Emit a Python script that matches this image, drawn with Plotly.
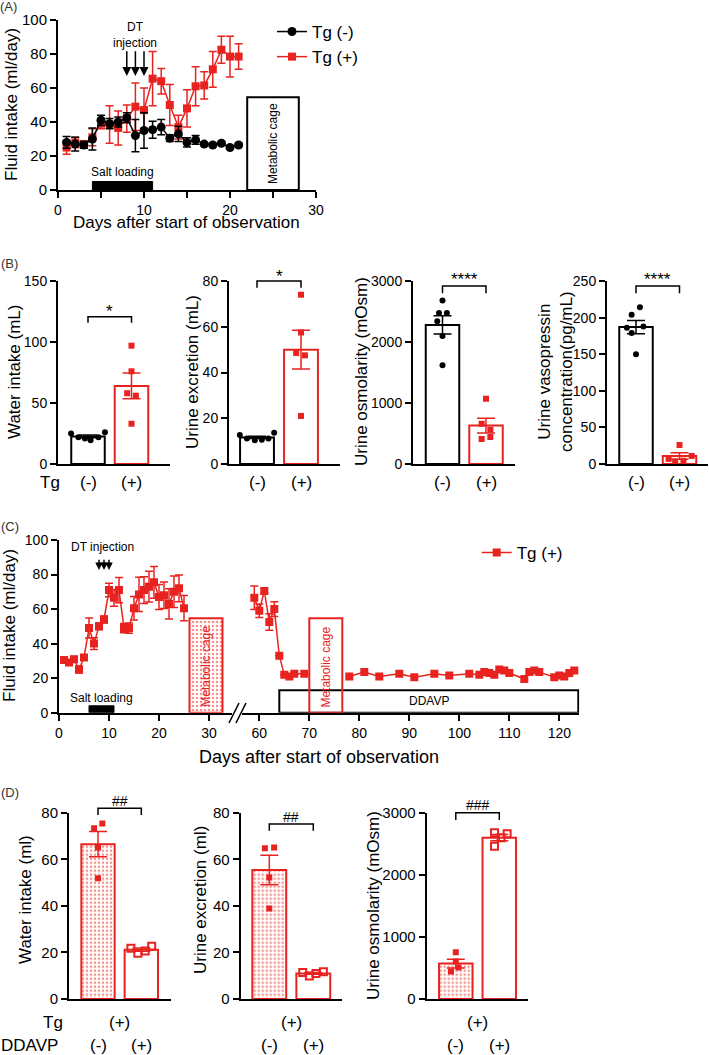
import plotly.graph_objects as go

W, H = 709, 1055
RED = "#E8231F"
FONT = "Liberation Sans, Arial, Helvetica, sans-serif"

# ================= DATA =================
# Panel A : fluid intake (ml/day)
a_days = list(range(1, 22))
a_neg_mean = [28, 27, 26.5, 30, 41, 39, 40, 42.5, 32, 35, 35.5, 37, 30.5, 33, 28, 29.5, 27, 26.5, 27.5, 25, 26.5]
a_neg_sem = [3.4, 4, 2, 6.5, 3, 3, 3, 3, 9.5, 10.5, 5, 4.5, 2, 4.5, 2.7, 2.6, 1, 1, 1, 1, 1]
a_pos_mean = [25, 28, 27, 31, 39, 38.5, 36.5, 42, 49, 47, 65.5, 64, 50, 37, 48, 61, 61.5, 71, 82.5, 78.5, 78.5]
a_pos_sem = [4, 3, 2, 5, 3, 11, 10, 8, 14, 13, 16, 7.5, 12, 7, 11, 11.5, 8, 10.5, 8, 12, 7.5]
a_dt_days = [8, 9, 10]
a_salt = [4, 11]
a_cage = [22, 28]

# Panel B
b_groups = ["(-)", "(+)"]
b1_neg = [25, 22, 21, 19.5, 22, 26]
b1_pos = [97, 76, 58, 56, 33]
b1_mean = [22.6, 64]
b1_sem = [1.1, 10.5]
b2_neg = [12.7, 11.2, 10.4, 10.6, 11.2, 13.7]
b2_pos = [74, 57.5, 48.5, 47.5, 21]
b2_mean = [11.6, 50]
b2_sem = [0.5, 8.5]
b3_neg = [2680, 2475, 2475, 2340, 2100, 1620]
b3_pos = [1070, 660, 562, 443, 410]
b3_mean = [2280, 630]
b3_sem = [150, 120]
b4_neg = [204, 214, 186, 188, 179, 150]
b4_pos = [26, 7, 11, 3.5, 4.5]
b4_mean = [187, 11]
b4_sem = [9, 4.5]

# Panel C
c1_days = list(range(1, 26))
c1_mean = [30.5, 29, 31, 25, 32, 49, 40, 50, 54, 71, 66.5, 71, 49, 49, 60.5, 68.5, 71, 73, 75.5, 67, 68, 63, 70, 72, 60.5]
c1_sem = [1.5, 1.5, 1.5, 2, 1.5, 5.8, 3.4, 2, 2, 3.9, 4.8, 7.3, 2.7, 3, 6.8, 9.9, 7.7, 8.9, 9.2, 7.2, 7.7, 8.7, 9.1, 7.7, 7.3]
c2_days = [59, 60, 61, 62, 63, 64, 65, 66, 67, 69]
c2_mean = [66.5, 59, 70.5, 52.5, 60, 33, 22, 21, 22.5, 22.5]
c2_sem = [6.8, 3.9, 1.5, 4.8, 4.3, 0, 0, 0, 0, 0]
c3_days = [78, 81, 84, 88, 91, 95, 98, 102, 104, 105, 106, 107, 108, 109, 110, 113, 114, 115, 116, 119, 120, 121, 122, 123]
c3_mean = [21, 23.5, 21, 22.5, 20.5, 22.5, 21.5, 22.5, 22, 23.5, 23, 22, 25, 24.5, 23, 19.5, 23.5, 24.5, 23.5, 20.5, 21.5, 21, 23, 24.5]
c_dt_days = [8, 9, 10]
c_salt = [6, 11]
c_cage1 = [26.1, 32.7]
c_cage2 = [70, 76.6]
c_ddavp = [64, 123.8]

# Panel D
d_tg = "(+)"
d1_neg = [73.3, 75.4, 65.1, 51.8]
d1_pos = [21.8, 19.6, 20.6, 22.7]
d1_mean = [66.5, 21.2]
d1_sem = [5.4, 0.7]
d2_neg = [64.7, 65.1, 52.2, 38.9]
d2_pos = [11.4, 9.9, 11, 11.7]
d2_mean = [55.4, 11]
d2_sem = [6.3, 0.4]
d3_neg = [754, 603, 506, 441]
d3_pos = [2677, 2661, 2596, 2460]
d3_mean = [570, 2598]
d3_sem = [70, 50]

# jitter offsets of dots inside bars (layout only)
b1_dx = ([-0.39, -0.22, -0.07, 0.06, 0.24, 0.39], [0, 0, -0.1, 0.1, 0])
b2_dx = ([-0.39, -0.23, -0.05, 0.11, 0.26, 0.39], [0, 0, -0.11, 0.09, 0])
b3_dx = ([0, -0.08, 0.1, -0.12, 0, 0], [0, -0.1, 0.1, 0.1, -0.1])
b4_dx = ([-0.1, 0.09, -0.21, 0.17, -0.1, 0], [0, -0.25, 0.28, -0.1, 0.09])
d1_dx = ([-0.09, 0.1, 0, 0], [-0.24, -0.08, 0.09, 0.24])
d2_dx = ([-0.1, 0.11, 0, 0], [-0.24, -0.09, 0.06, 0.23])
d3_dx = ([0, 0, 0.06, -0.11], [-0.11, 0.18, 0.04, -0.11])

# ================= HELPERS =================
def px(p):
    return p / W

def py(p):
    return 1 - p / H

def xdom(a, b):
    return [a / W, b / W]

def ydom(top, bot):
    return [1 - bot / H, 1 - top / H]

def axstyle(size, ticklen=6):
    return dict(showline=True, linecolor="black", linewidth=2, ticks="outside",
                ticklen=ticklen, tickwidth=2, tickcolor="black", showgrid=False,
                zeroline=False, fixedrange=True,
                tickfont=dict(family=FONT, size=size, color="black"))

fig = go.Figure()
layout = dict(autosize=True, margin=dict(l=0, r=0, t=0, b=0, autoexpand=False),
              paper_bgcolor="white", plot_bgcolor="rgba(0,0,0,0)",
              barmode="overlay", font=dict(family=FONT, color="black"),
              showlegend=True)
annotations = []
shapes = []

def text(x, y, s, size=17, angle=0, color="black", xref="paper", yref="paper"):
    annotations.append(dict(x=x, y=y, text=s, xref=xref, yref=yref, showarrow=False,
                            xanchor="center", yanchor="middle",
                            textangle=angle, font=dict(family=FONT, size=size, color=color)))

# ================= PANEL A =================
layout["xaxis"] = dict(**axstyle(14), domain=xdom(58, 316), range=[0, 30], anchor="y",
                       tickvals=[0, 10, 20, 30],
                       minor=dict(tickvals=[5, 15, 25], ticks="outside", ticklen=6,
                                  tickwidth=2, tickcolor="black"))
layout["yaxis"] = dict(**axstyle(15), domain=ydom(20, 190), range=[0, 100], anchor="x",
                       tickvals=[0, 20, 40, 60, 80, 100])

fig.add_trace(go.Scatter(x=a_days, y=a_pos_mean, name="Tg (+)", legendrank=2,
                         mode="lines+markers", xaxis="x", yaxis="y",
                         line=dict(color=RED, width=1.5),
                         marker=dict(symbol="square", size=8, color=RED),
                         error_y=dict(type="data", array=a_pos_sem, color=RED,
                                      thickness=1.5, width=4)))
fig.add_trace(go.Scatter(x=a_days, y=a_neg_mean, name="Tg (-)", legendrank=1,
                         mode="lines+markers", xaxis="x", yaxis="y",
                         line=dict(color="black", width=1.5),
                         marker=dict(symbol="circle", size=9, color="black"),
                         error_y=dict(type="data", array=a_neg_sem, color="black",
                                      thickness=1.5, width=4)))

shapes.append(dict(type="rect", xref="x", yref="y", x0=a_salt[0], x1=a_salt[1], y0=0, y1=5,
                   fillcolor="black", line=dict(color="black", width=1)))
shapes.append(dict(type="rect", xref="x", yref="y", x0=a_cage[0], x1=a_cage[1], y0=0, y1=54.5,
                   fillcolor="white", line=dict(color="black", width=2)))
text((a_cage[0] + a_cage[1]) / 2, 27, "Metabolic cage", size=12, angle=-90, xref="x", yref="y")
text((a_salt[0] + a_salt[1]) / 2, 10.5, "Salt loading", size=12, xref="x", yref="y")
text(8.9, 91, "DT<br>injection", size=12, xref="x", yref="y")
for d in a_dt_days:
    annotations.append(dict(x=d, y=67, ax=d, ay=82.5, xref="x", yref="y", axref="x", ayref="y",
                            text="", showarrow=True, arrowhead=2, arrowsize=1.2,
                            arrowwidth=1.5, arrowcolor="black"))
text(px(187), py(223), "Days after start of observation", size=17)
text(px(11), py(105), "Fluid intake (ml/day)", size=17, angle=-90)
text(px(8), py(7), "(A)", size=13, color="#333")

layout["legend"] = dict(x=px(272), y=py(14), xanchor="left", yanchor="top",
                        font=dict(family=FONT, size=17, color="black"),
                        bgcolor="rgba(0,0,0,0)", itemwidth=30, tracegroupgap=0)

# ================= BAR PANELS =================
def bar_panel(idx, x0, x1, c, s, ytop, ybot, yr, tickvals, tsize, vals, means, sems, dx,
              neg_style, pos_style, err_colors, bar_lines, patterned):
    xa, ya = f"x{idx}", f"y{idx}"
    layout[f"xaxis{idx}"] = dict(**axstyle(tsize), domain=xdom(x0, x1),
                                 range=[(x0 - c) / s, (x1 - c) / s], anchor=ya,
                                 showticklabels=False)
    layout[f"xaxis{idx}"]["ticks"] = ""
    layout[f"yaxis{idx}"] = dict(**axstyle(tsize), domain=ydom(ytop, ybot), range=yr,
                                 anchor=xa, tickvals=tickvals)
    for g in range(2):
        marker = dict(color="white", line=dict(color=bar_lines[g], width=2))
        if patterned[g]:
            marker["pattern"] = dict(shape=".", fgcolor=RED, bgcolor="white", size=4, solidity=0.3)
        fig.add_trace(go.Bar(x=[g], y=[means[g]], width=0.77, marker=marker,
                             xaxis=xa, yaxis=ya, showlegend=False,
                             error_y=dict(type="data", array=[sems[g]], color=err_colors[g],
                                          thickness=1.5, width=9)))
    for g, st in enumerate([neg_style, pos_style]):
        fig.add_trace(go.Scatter(x=[g + o for o in dx[g]], y=vals[g], mode="markers",
                                 marker=st, xaxis=xa, yaxis=ya, showlegend=False))
    return xa, ya

def bracket(xa, ytop_px, tick_px, label, label_py, size=17):
    shapes.append(dict(type="path", xref=xa, yref="paper",
                       path=f"M 0,{py(tick_px)} L 0,{py(ytop_px)} L 1,{py(ytop_px)} L 1,{py(tick_px)}",
                       line=dict(color="black", width=1.5)))
    annotations.append(dict(x=0.5, y=py(label_py), xref=xa, yref="paper", text=label,
                            xanchor="center", yanchor="middle",
                            showarrow=False, font=dict(family=FONT, size=size, color="black")))

def group_label(xa, x, ypx, s):
    annotations.append(dict(x=x, y=py(ypx), xref=xa, yref="paper", text=s,
                            xanchor="center", yanchor="middle",
                            showarrow=False, font=dict(family=FONT, size=17, color="black")))

blk_c = dict(symbol="circle", size=6, color="black")
red_s = dict(symbol="square", size=6, color=RED)
red_o = dict(symbol="square-open", size=7, color=RED, line=dict(color=RED, width=2))

B_TOP, B_BOT = 281, 464
bp = [
    (2, 58, 170, 88, 43.5, [0, 150], [0, 50, 100, 150], (b1_neg, b1_pos), b1_mean, b1_sem, b1_dx),
    (3, 229, 340, 257, 44, [0, 80], [0, 20, 40, 60, 80], (b2_neg, b2_pos), b2_mean, b2_sem, b2_dx),
    (4, 413, 515, 442.5, 43.5, [0, 3000], [0, 1000, 2000, 3000], (b3_neg, b3_pos), b3_mean, b3_sem, b3_dx),
    (5, 607, 708, 636, 43.5, [0, 250], [0, 50, 100, 150, 200, 250], (b4_neg, b4_pos), b4_mean, b4_sem, b4_dx),
]
for (i, x0, x1, c, s, yr, tv, vals, m, se, dx) in bp:
    xa, ya = bar_panel(i, x0, x1, c, s, B_TOP, B_BOT, yr, tv, 14, vals, m, se, dx,
                       blk_c, red_s, ["black", RED], ["black", RED], [False, False])
    for g in range(2):
        group_label(xa, g, 482, b_groups[g])

bracket("x2", 316.7, 322.7, "*", 312)
bracket("x3", 281, 287.7, "*", 276.5)
bracket("x4", 286, 293.3, "****", 279.5)
bracket("x5", 286, 293.3, "****", 279.5)
text(px(50), py(482), "Tg", size=17)
text(px(14), py(372), "Water intake (mL)", size=17, angle=-90)
text(px(192), py(372), "Urine excretion (mL)", size=17, angle=-90)
text(px(361), py(372), "Urine osmolarity (mOsm)", size=17, angle=-90)
text(px(555), py(372), "Urine vasopressin<br>concentration(pg/mL)", size=17, angle=-90)
text(px(9), py(264), "(B)", size=13, color="#333")

# ================= PANEL C =================
C_TOP, C_BOT = 540, 712.7
layout["xaxis6"] = dict(**axstyle(14), domain=xdom(59, 232), range=[0, (232 - 59) / 5],
                        anchor="y6", tickvals=[0, 10, 20, 30])
layout["yaxis6"] = dict(**axstyle(14), domain=ydom(C_TOP, C_BOT), range=[0, 100],
                        anchor="x6", tickvals=[0, 20, 40, 60, 80, 100])
layout["xaxis7"] = dict(**axstyle(14), domain=xdom(242, 579.3),
                        range=[60 - (259.3 - 242) / 5, 60 + (579.3 - 259.3) / 5],
                        anchor="y6", tickvals=[60, 70, 80, 90, 100, 110, 120])

# patterned metabolic cage (left part)
fig.add_trace(go.Bar(x=[(c_cage1[0] + c_cage1[1]) / 2], y=[54.7], width=c_cage1[1] - c_cage1[0],
                     xaxis="x6", yaxis="y6", showlegend=False,
                     marker=dict(color="white", line=dict(color=RED, width=2),
                                 pattern=dict(shape=".", fgcolor=RED, bgcolor="white",
                                              size=4, solidity=0.3))))
shapes.append(dict(type="rect", xref="x6", yref="y6", x0=c_salt[0], x1=c_salt[1], y0=0, y1=4,
                   fillcolor="black", line=dict(color="black", width=1)))
shapes.append(dict(type="rect", xref="x7", yref="y6", x0=c_ddavp[0], x1=c_ddavp[1], y0=0, y1=13,
                   fillcolor="rgba(0,0,0,0)", line=dict(color="black", width=2)))
shapes.append(dict(type="rect", xref="x7", yref="y6", x0=c_cage2[0], x1=c_cage2[1], y0=0, y1=54.7,
                   fillcolor="rgba(0,0,0,0)", line=dict(color=RED, width=2)))

ckw = dict(mode="lines+markers", line=dict(color=RED, width=1.5),
           marker=dict(symbol="square", size=8, color=RED))
fig.add_trace(go.Scatter(x=c1_days, y=c1_mean, name="Tg (+)", legend="legend2",
                         xaxis="x6", yaxis="y6", showlegend=True,
                         error_y=dict(type="data", array=c1_sem, color=RED, thickness=1.5, width=4),
                         **ckw))
fig.add_trace(go.Scatter(x=c2_days, y=c2_mean, xaxis="x7", yaxis="y6", showlegend=False,
                         error_y=dict(type="data", array=c2_sem, color=RED, thickness=1.5, width=4),
                         **ckw))
fig.add_trace(go.Scatter(x=c3_days, y=c3_mean, xaxis="x7", yaxis="y6", showlegend=False, **ckw))

text((c_cage1[0] + c_cage1[1]) / 2, 26.6, "Metabolic cage", size=12, angle=-90, color=RED,
     xref="x6", yref="y6")
text((c_cage2[0] + c_cage2[1]) / 2, 26.6, "Metabolic cage", size=12, angle=-90, color=RED,
     xref="x7", yref="y6")
text((c_ddavp[0] + c_ddavp[1]) / 2, 6.5, "DDAVP", size=12, xref="x7", yref="y6")
text(8.4, 8.5, "Salt loading", size=12, xref="x6", yref="y6")
text(8.7, 96, "DT injection", size=12, xref="x6", yref="y6")
for d in c_dt_days:
    annotations.append(dict(x=d, y=82.6, ax=d, ay=89.5, xref="x6", yref="y6", axref="x6", ayref="y6",
                            text="", showarrow=True, arrowhead=2, arrowsize=1,
                            arrowwidth=1.5, arrowcolor="black"))
# axis break marks
for (xa0, xb0) in [(229, 239), (236, 246)]:
    shapes.append(dict(type="line", xref="paper", yref="paper", x0=px(xa0), y0=py(723),
                       x1=px(xb0), y1=py(703), line=dict(color="black", width=1.5)))
text(px(319), py(757), "Days after start of observation", size=18)
text(px(9), py(626), "Fluid intake (ml/day)", size=17, angle=-90)
text(px(10), py(527), "(C)", size=13, color="#333")
layout["legend2"] = dict(x=px(476.7), y=py(535), xanchor="left", yanchor="top",
                         font=dict(family=FONT, size=17, color="black"),
                         bgcolor="rgba(0,0,0,0)", itemwidth=30)

# ================= PANEL D =================
D_TOP, D_BOT = 812.7, 999
dp = [
    (8, 69, 170.7, 98, 43.3, [0, 80], [0, 20, 40, 60, 80], (d1_neg, d1_pos), d1_mean, d1_sem, d1_dx),
    (9, 240.7, 341.7, 269.3, 44, [0, 80], [0, 20, 40, 60, 80], (d2_neg, d2_pos), d2_mean, d2_sem, d2_dx),
    (10, 426.7, 528.3, 455.8, 43.5, [0, 3000], [0, 1000, 2000, 3000], (d3_neg, d3_pos), d3_mean, d3_sem, d3_dx),
]
for (i, x0, x1, c, s, yr, tv, vals, m, se, dx) in dp:
    xa, ya = bar_panel(i, x0, x1, c, s, D_TOP, D_BOT, yr, tv, 15, vals, m, se, dx,
                       red_s, red_o, [RED, RED], [RED, RED], [True, False])
    group_label(xa, 0.5, 1022, d_tg)
    for g in range(2):
        group_label(xa, g, 1045, b_groups[g])
bracket("x8", 808.3, 815, "##", 801, size=14)
bracket("x9", 824, 830.7, "##", 817, size=14)
bracket("x10", 812.7, 820, "###", 804.5, size=14)
text(px(53), py(1022), "Tg", size=17)
text(px(29), py(1045), "DDAVP", size=17)
text(px(25), py(900), "Water intake (ml)", size=17, angle=-90)
text(px(200), py(900), "Urine excretion (ml)", size=17, angle=-90)
text(px(373), py(905), "Urine osmolarity (mOsm)", size=17, angle=-90)
text(px(10), py(792), "(D)", size=13, color="#333")

layout["annotations"] = annotations
layout["shapes"] = shapes
fig.update_layout(**layout)
# The graph div is pinned to the window's top-left corner (position:absolute) so that the
# browser's default 8px body margin does not push the 709x1055 figure out of the window;
# the figure autosizes to this 709x1055 div.
fig.write_html("out.html", config={"displayModeBar": False, "responsive": False},
               default_width=f"{W}px",
               default_height=f"{H}px;position:absolute;left:0px;top:0px")
